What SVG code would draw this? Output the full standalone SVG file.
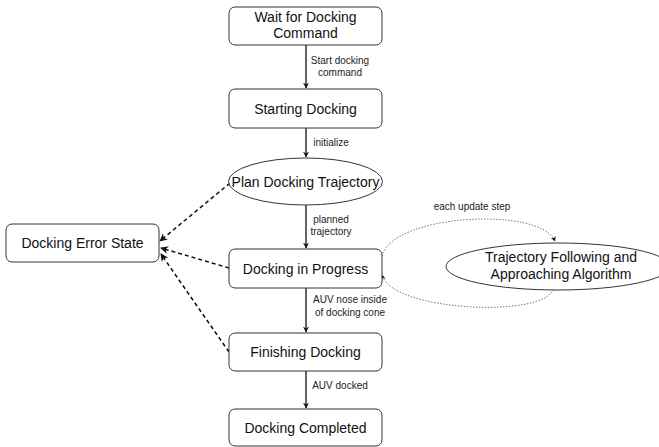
<svg xmlns="http://www.w3.org/2000/svg" width="659" height="447" viewBox="0 0 659 447">
  <style>
    .node { fill: #ffffff; stroke: #333333; stroke-width: 1; }
    .lbl { font-family: "Liberation Sans", Arial, sans-serif; font-size: 14px; fill: #111111; text-anchor: middle; }
    .elbl { font-family: "Liberation Sans", Arial, sans-serif; font-size: 10px; fill: #222222; text-anchor: middle; }
    .flow { fill: none; stroke: #111111; stroke-width: 1.3; }
    .err { fill: none; stroke: #111111; stroke-width: 1.5; stroke-dasharray: 4 3; }
    .loop { fill: none; stroke: #555555; stroke-width: 0.8; stroke-dasharray: 1.5 1.5; }
  </style>
  <defs>
    <marker id="head" viewBox="0 0 10 10" refX="9" refY="5" markerWidth="6" markerHeight="6" orient="auto" markerUnits="userSpaceOnUse">
      <path d="M0,0 L10,5 L0,10 L3,5 Z" fill="#111111"/>
    </marker>
    <marker id="headErr" viewBox="0 0 10 10" refX="9" refY="5" markerWidth="8" markerHeight="8" orient="auto" markerUnits="userSpaceOnUse">
      <path d="M0,0 L10,5 L0,10 L3,5 Z" fill="#111111"/>
    </marker>
    <marker id="headSmall" viewBox="0 0 10 10" refX="9" refY="5" markerWidth="5" markerHeight="5" orient="auto" markerUnits="userSpaceOnUse">
      <path d="M0,0 L10,5 L0,10 L3,5 Z" fill="#111111"/>
    </marker>
  </defs>

  <!-- connectors -->
  <g id="connectors">
    <line class="flow" x1="306" y1="45" x2="306" y2="88" marker-end="url(#head)"/>
    <line class="flow" x1="306" y1="128" x2="306" y2="157" marker-end="url(#head)"/>
    <line class="flow" x1="306" y1="205" x2="306" y2="248" marker-end="url(#head)"/>
    <line class="flow" x1="306" y1="288" x2="306" y2="332" marker-end="url(#head)"/>
    <line class="flow" x1="306" y1="371" x2="306" y2="408" marker-end="url(#head)"/>

    <line class="err" x1="230" y1="183" x2="160" y2="241" marker-end="url(#headErr)"/>
    <line class="err" x1="229" y1="268" x2="161" y2="248" marker-end="url(#headErr)"/>
    <line class="err" x1="229" y1="352" x2="161" y2="254" marker-end="url(#headErr)"/>

    <path class="loop" d="M382,256 C392,214 540,206 555,241" marker-end="url(#headSmall)"/>
    <path class="loop" d="M553,289 C546,318 392,312 382,275" marker-end="url(#headSmall)"/>

    <text class="elbl" x="340" y="64">Start docking</text>
    <text class="elbl" x="340" y="76">command</text>
    <text class="elbl" x="331" y="146">initialize</text>
    <text class="elbl" x="331" y="223">planned</text>
    <text class="elbl" x="331" y="235">trajectory</text>
    <text class="elbl" x="350" y="303">AUV nose inside</text>
    <text class="elbl" x="350" y="316">of docking cone</text>
    <text class="elbl" x="340" y="389">AUV docked</text>
    <text class="elbl" x="472" y="210">each update step</text>
  </g>

  <g id="wait">
    <rect class="node" x="229" y="7" width="153" height="38" rx="6"/>
    <text class="lbl" x="305.5" y="22">Wait for Docking</text>
    <text class="lbl" x="305.5" y="38">Command</text>
  </g>

  <g id="starting">
    <rect class="node" x="229" y="89" width="153" height="39" rx="6"/>
    <text class="lbl" x="305.5" y="113.5">Starting Docking</text>
  </g>

  <g id="plan">
    <ellipse class="node" cx="305.5" cy="181.5" rx="77" ry="23.5"/>
    <text class="lbl" x="305.5" y="186.5">Plan Docking Trajectory</text>
  </g>

  <g id="progress">
    <rect class="node" x="229" y="249" width="153" height="39" rx="6"/>
    <text class="lbl" x="305.5" y="273.5">Docking in Progress</text>
  </g>

  <g id="finishing">
    <rect class="node" x="229" y="333" width="153" height="38" rx="6"/>
    <text class="lbl" x="305.5" y="357">Finishing Docking</text>
  </g>

  <g id="completed">
    <rect class="node" x="229" y="409" width="153" height="37" rx="6"/>
    <text class="lbl" x="305.5" y="433">Docking Completed</text>
  </g>

  <g id="error">
    <rect class="node" x="6" y="224" width="153" height="38" rx="6"/>
    <text class="lbl" x="82.5" y="248">Docking Error State</text>
  </g>

  <g id="trajectory">
    <ellipse class="node" cx="558" cy="266.5" rx="112" ry="23.5"/>
    <text class="lbl" x="561" y="262">Trajectory Following and</text>
    <text class="lbl" x="561" y="279">Approaching Algorithm</text>
  </g>
</svg>
